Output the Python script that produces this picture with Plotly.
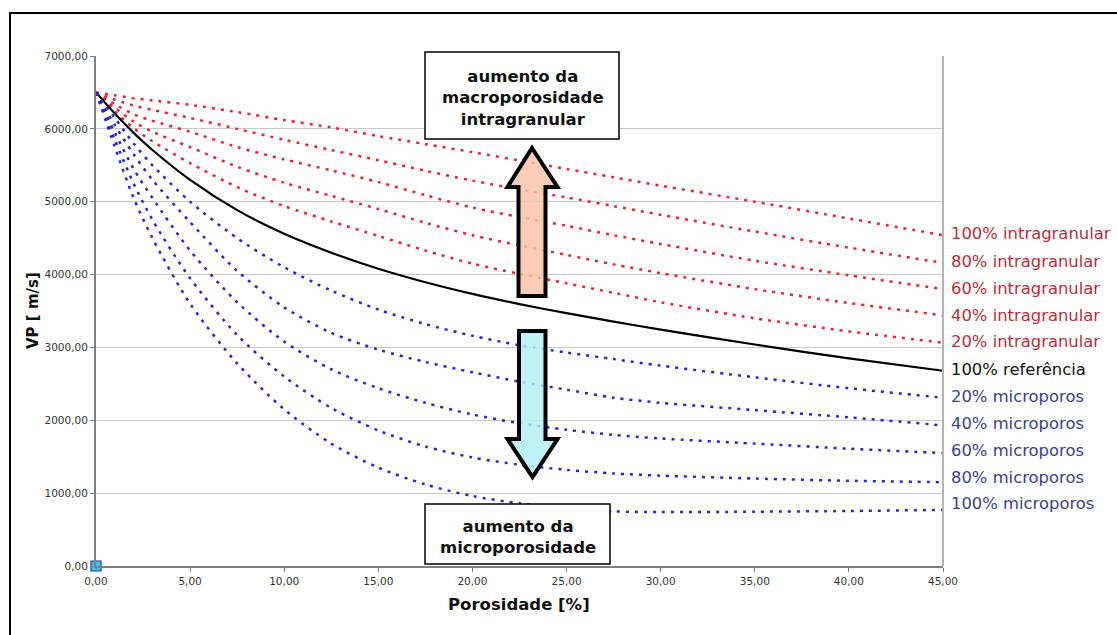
import plotly.graph_objects as go

# Porosity sample points (%)
porosidade = [0, 1, 2, 3, 5, 7.5, 10, 12.5, 15, 17.5, 20, 22.5, 25, 27.5, 30, 35, 40, 45]

# P-wave velocity (m/s) for each pore-type mixture
vp_intra_100 = [6500, 6460, 6420, 6390, 6330, 6230, 6120, 6020, 5900, 5790, 5680, 5565, 5450, 5335, 5220, 5000, 4770, 4540]
vp_intra_80 = [6500, 6400, 6320, 6260, 6150, 6000, 5850, 5710, 5570, 5425, 5290, 5170, 5060, 4940, 4820, 4590, 4370, 4160]
vp_intra_60 = [6500, 6340, 6200, 6110, 5960, 5750, 5580, 5430, 5270, 5090, 4920, 4790, 4670, 4540, 4420, 4190, 3990, 3800]
vp_intra_40 = [6500, 6290, 6100, 5960, 5750, 5480, 5260, 5080, 4900, 4710, 4540, 4400, 4270, 4140, 4020, 3800, 3610, 3440]
vp_intra_20 = [6500, 6240, 6010, 5830, 5530, 5200, 4940, 4730, 4530, 4330, 4150, 4010, 3880, 3750, 3620, 3400, 3220, 3065]
vp_ref = [6500, 6210, 5945, 5710, 5300, 4885, 4560, 4300, 4080, 3895, 3735, 3595, 3470, 3355, 3245, 3040, 2850, 2680]
vp_micro_20 = [6500, 6150, 5800, 5500, 5000, 4500, 4100, 3780, 3520, 3320, 3160, 3030, 2930, 2840, 2750, 2590, 2440, 2310]
vp_micro_40 = [6500, 6050, 5650, 5300, 4720, 4050, 3550, 3200, 2970, 2800, 2660, 2530, 2420, 2310, 2240, 2140, 2040, 1930]
vp_micro_60 = [6500, 5950, 5450, 5050, 4330, 3620, 3080, 2700, 2440, 2240, 2080, 1960, 1870, 1800, 1750, 1680, 1610, 1550]
vp_micro_80 = [6500, 5850, 5250, 4750, 3950, 3170, 2600, 2170, 1860, 1640, 1490, 1390, 1320, 1270, 1240, 1200, 1170, 1150]
vp_micro_100 = [6500, 5750, 5050, 4500, 3600, 2780, 2150, 1680, 1350, 1120, 960, 860, 790, 750, 740, 745, 755, 770]

series_names = [
    "100% intragranular", "80% intragranular", "60% intragranular",
    "40% intragranular", "20% intragranular", "100% referência",
    "20% microporos", "40% microporos", "60% microporos",
    "80% microporos", "100% microporos",
]
series_values = [
    vp_intra_100, vp_intra_80, vp_intra_60, vp_intra_40, vp_intra_20, vp_ref,
    vp_micro_20, vp_micro_40, vp_micro_60, vp_micro_80, vp_micro_100,
]

# Origin point of the chart
origem_x = [0]
origem_y = [0]

# tick values
y_ticks = [0, 1000, 2000, 3000, 4000, 5000, 6000, 7000]
x_ticks = [0, 5, 10, 15, 20, 25, 30, 35, 40, 45]

# ---- styling ----
W, H = 1117, 635
L, R, T, B = 96, 174, 56, 69
PW, PH = W - L - R, H - T - B

RED_LINE = "#E0263A"
BLUE_LINE = "#2828C4"
RED_TEXT = "#B8303A"
BLUE_TEXT = "#404088"
line_colors = [RED_LINE] * 5 + ["#000000"] + [BLUE_LINE] * 5
text_colors = [RED_TEXT] * 5 + ["#111111"] + [BLUE_TEXT] * 5
label_yshift = [2, 1, 1, 0, 1, 1, 1, 2, 3, 5, 6]


def px(x):
    return (x - L) / PW


def py(y):
    return (H - B - y) / PH


fig = go.Figure()

for name, vals, col in zip(series_names, series_values, line_colors):
    solid = col == "#000000"
    fig.add_trace(go.Scatter(
        x=porosidade, y=vals, mode="lines", name=name,
        line=dict(color=col, width=2.2 if solid else 2.5,
                  dash="solid" if solid else "3px,6px",
                  shape="spline", smoothing=0.8),
        hoverinfo="x+y+name",
    ))

fig.add_trace(go.Scatter(
    x=origem_x, y=origem_y, mode="markers", cliponaxis=False,
    marker=dict(symbol="square", size=10, color="#33CCF0",
                line=dict(color="#1F3A8A", width=1.2)),
    hoverinfo="skip",
))

annotations = []
for name, vals, col, ys in zip(series_names, series_values, text_colors, label_yshift):
    annotations.append(dict(
        x=porosidade[-1], y=vals[-1], xref="x", yref="y",
        text=name, showarrow=False, xanchor="left", yanchor="middle",
        xshift=6, yshift=ys,
        font=dict(family="DejaVu Sans", size=16.4, color=col),
    ))

# axis titles
annotations.append(dict(
    x=px(519), y=py(604), xref="paper", yref="paper", text="<b>Porosidade [%]</b>",
    showarrow=False, xanchor="center", yanchor="middle",
    font=dict(family="DejaVu Sans", size=16.5, color="#111111"),
))
annotations.append(dict(
    x=px(33), y=0.5, xref="paper", yref="paper", text="<b>VP [ m/s]</b>",
    showarrow=False, xanchor="center", yanchor="middle", textangle=-90,
    font=dict(family="DejaVu Sans", size=15, color="#111111"),
))

# text boxes
annotations.append(dict(
    x=px(523), y=py(98), xref="paper", yref="paper",
    text="<b>aumento da<br>macroporosidade<br>intragranular</b>",
    showarrow=False, xanchor="center", yanchor="middle", align="center",
    font=dict(family="DejaVu Sans", size=16.5, color="#111111"),
))
annotations.append(dict(
    x=px(518), y=py(537), xref="paper", yref="paper",
    text="<b>aumento da<br>microporosidade</b>",
    showarrow=False, xanchor="center", yanchor="middle", align="center",
    font=dict(family="DejaVu Sans", size=16.5, color="#111111"),
))

shapes = []
# outer frame
shapes.append(dict(type="rect", xref="paper", yref="paper",
                   x0=px(10), x1=px(1140), y0=py(660), y1=py(13),
                   line=dict(color="#000000", width=2), fillcolor="rgba(0,0,0,0)",
                   layer="below"))
# right plot-area border
shapes.append(dict(type="line", xref="paper", yref="paper",
                   x0=1, x1=1, y0=0, y1=1,
                   line=dict(color="#B4B4B4", width=2)))


def poly(points):
    return "M " + " L ".join(f"{px(x):.5f},{py(y):.5f}" for x, y in points) + " Z"


# upward arrow
up = [(532, 148), (557.5, 187), (545.5, 187), (545.5, 296), (518.5, 296),
      (518.5, 187), (507.5, 187)]
shapes.append(dict(type="path", xref="paper", yref="paper", path=poly(up),
                   fillcolor="rgba(248,196,170,0.85)",
                   line=dict(color="#000000", width=4)))
# downward arrow
down = [(519, 331), (545.5, 331), (545.5, 439), (557.5, 439), (532.5, 477),
        (507.5, 439), (519, 439)]
shapes.append(dict(type="path", xref="paper", yref="paper", path=poly(down),
                   fillcolor="rgba(180,238,245,0.85)",
                   line=dict(color="#000000", width=4)))
# white boxes
shapes.append(dict(type="rect", xref="paper", yref="paper",
                   x0=px(425), x1=px(619), y0=py(139), y1=py(52),
                   fillcolor="#FFFFFF", line=dict(color="#000000", width=1.5)))
shapes.append(dict(type="rect", xref="paper", yref="paper",
                   x0=px(425), x1=px(610), y0=py(564), y1=py(504),
                   fillcolor="#FFFFFF", line=dict(color="#000000", width=1.5)))

fig.update_layout(
    width=W, height=H,
    margin=dict(l=L, r=R, t=T, b=B, pad=0),
    paper_bgcolor="#FFFFFF", plot_bgcolor="#FFFFFF",
    separators=",.",
    showlegend=False,
    annotations=annotations,
    shapes=shapes,
    xaxis=dict(
        range=[0, 45], tickvals=x_ticks, tickformat=".2f",
        showgrid=False, zeroline=False,
        showline=True, linecolor="#7F7F7F", linewidth=2,
        ticks="outside", ticklen=4, tickcolor="#7F7F7F", tickwidth=1,
        tickfont=dict(family="DejaVu Sans", size=10.5, color="#333333"),
    ),
    yaxis=dict(
        range=[0, 7000], tickvals=y_ticks, tickformat=".2f",
        showgrid=True, gridcolor="#C8C8C8", gridwidth=1.2, zeroline=False,
        showline=True, linecolor="#7F7F7F", linewidth=2,
        ticks="outside", ticklen=4, tickcolor="#7F7F7F", tickwidth=1,
        tickfont=dict(family="DejaVu Sans", size=10.5, color="#333333"),
    ),
)

fig.write_html("out.html")
